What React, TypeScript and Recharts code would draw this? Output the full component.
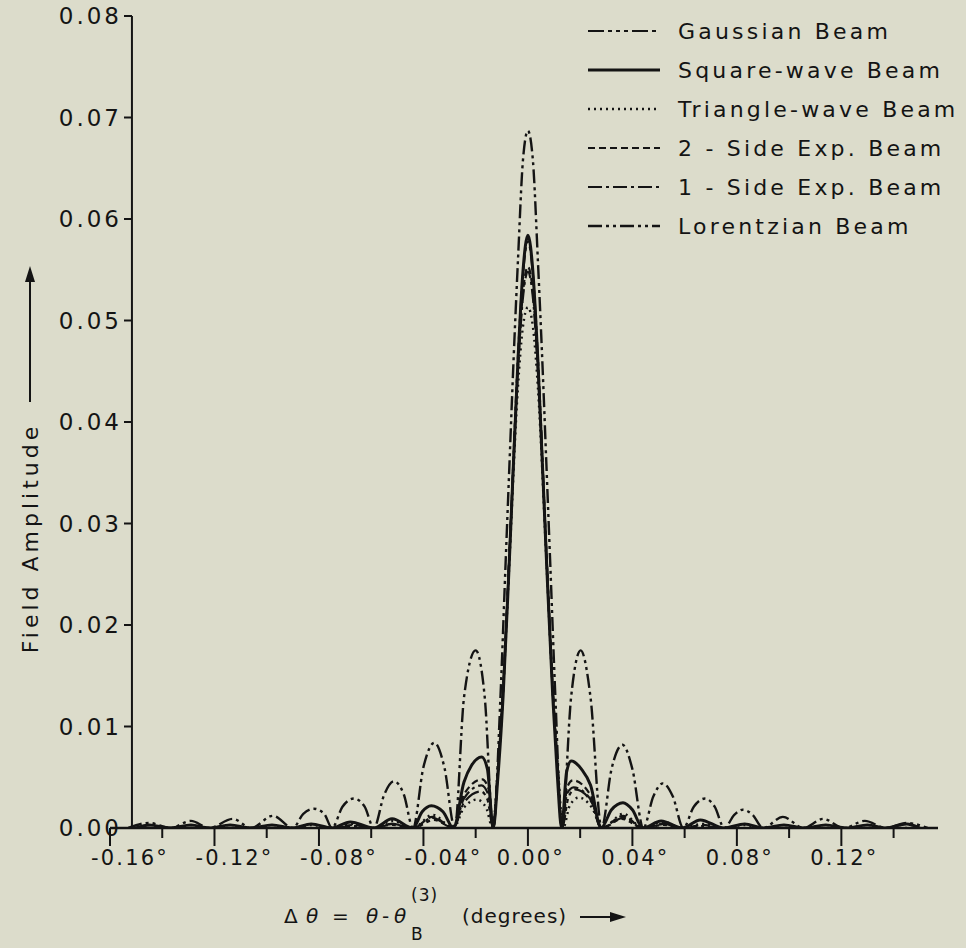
import React from 'react'
import { LineChart, Line, XAxis, YAxis, ReferenceLine, Legend } from 'recharts'

// tick positions
const xTicks = [-0.16, -0.14, -0.12, -0.1, -0.08, -0.06, -0.04, -0.02, 0, 0.02, 0.04, 0.06, 0.08, 0.1, 0.12, 0.14]
const yTicks = [0, 0.01, 0.02, 0.03, 0.04, 0.05, 0.06, 0.07, 0.08]
const yAxisAt = -0.1516

// [angle (deg), field amplitude]
const gaussian: [number, number][] = [
  [-0.15, 0], [-0.06, 0], [-0.052, 0.0003], [-0.044, 0], [-0.036, 0.0008], [-0.0285, 0],
  [-0.0245, 0.0025], [-0.018, 0.0036], [-0.0155, 0.0028], [-0.0133, 0],
  [-0.0115, 0.0055], [-0.0095, 0.0135], [-0.0071, 0.0268], [-0.0038, 0.0465], [-0.002, 0.0542],
  [0, 0.0578],
  [0.002, 0.0542], [0.0038, 0.0465], [0.0071, 0.0268], [0.0095, 0.0135], [0.0115, 0.0055],
  [0.0131, 0], [0.0155, 0.003], [0.018, 0.0038], [0.0245, 0.0025], [0.0285, 0],
  [0.036, 0.0009], [0.044, 0], [0.052, 0.0003], [0.06, 0], [0.15, 0],
]

const squareWave: [number, number][] = [
  [-0.15, 0], [-0.145, 0.0003], [-0.137, 0], [-0.129, 0.0003], [-0.122, 0], [-0.114, 0.0003],
  [-0.106, 0], [-0.098, 0.0003], [-0.09, 0], [-0.083, 0.0004], [-0.075, 0], [-0.068, 0.0006],
  [-0.059, 0], [-0.052, 0.0009], [-0.044, 0], [-0.0405, 0.0016], [-0.037, 0.0022], [-0.0325, 0.0016],
  [-0.0285, 0], [-0.0245, 0.0045], [-0.0215, 0.0062], [-0.0177, 0.007], [-0.0155, 0.0058], [-0.0133, 0],
  [-0.0115, 0.005], [-0.0095, 0.013], [-0.0071, 0.0264], [-0.0038, 0.0461], [-0.002, 0.0545],
  [0, 0.0584],
  [0.002, 0.0545], [0.0038, 0.0461], [0.0071, 0.0264], [0.0095, 0.013], [0.0113, 0.005], [0.0129, 0],
  [0.0148, 0.0055], [0.0166, 0.0066], [0.0205, 0.0058], [0.024, 0.0042], [0.028, 0],
  [0.032, 0.0018], [0.0364, 0.0025], [0.04, 0.0018], [0.044, 0], [0.051, 0.0007], [0.059, 0],
  [0.066, 0.0008], [0.075, 0], [0.083, 0.0004], [0.09, 0], [0.098, 0.0003], [0.106, 0],
  [0.114, 0.0003], [0.122, 0], [0.13, 0.0003], [0.137, 0], [0.145, 0.0004], [0.15, 0],
]

const triangleWave: [number, number][] = [
  [-0.15, 0], [-0.09, 0], [-0.083, 0.0003], [-0.075, 0], [-0.067, 0.0004], [-0.059, 0],
  [-0.052, 0.0007], [-0.044, 0], [-0.0365, 0.0013], [-0.0285, 0], [-0.0245, 0.002],
  [-0.0195, 0.0028], [-0.016, 0.002], [-0.0135, 0],
  [-0.0115, 0.0058], [-0.0095, 0.0135], [-0.0071, 0.0262], [-0.0038, 0.0435], [-0.002, 0.0492],
  [0, 0.0513],
  [0.002, 0.0492], [0.0038, 0.0435], [0.0071, 0.0262], [0.0095, 0.0135], [0.0115, 0.0058],
  [0.0135, 0], [0.016, 0.0022], [0.0195, 0.003], [0.0245, 0.002], [0.0285, 0],
  [0.0365, 0.0014], [0.044, 0], [0.052, 0.0006], [0.059, 0], [0.067, 0.0004], [0.075, 0],
  [0.083, 0.0003], [0.09, 0], [0.15, 0],
]

const twoSideExp: [number, number][] = [
  [-0.15, 0], [-0.075, 0], [-0.067, 0.0003], [-0.059, 0], [-0.052, 0.0004], [-0.044, 0],
  [-0.0365, 0.0011], [-0.0285, 0], [-0.0245, 0.0033], [-0.0175, 0.0048], [-0.015, 0.0038], [-0.0133, 0],
  [-0.0115, 0.0058], [-0.0095, 0.0138], [-0.0071, 0.027], [-0.0038, 0.0455], [-0.002, 0.0525],
  [0, 0.0553],
  [0.002, 0.0525], [0.0038, 0.0455], [0.0071, 0.027], [0.0095, 0.0138], [0.0115, 0.0058],
  [0.013, 0], [0.015, 0.004], [0.0172, 0.0047], [0.024, 0.0032], [0.028, 0],
  [0.0365, 0.0012], [0.044, 0], [0.052, 0.0004], [0.059, 0], [0.067, 0.0003], [0.075, 0], [0.15, 0],
]

const oneSideExp: [number, number][] = [
  [-0.15, 0], [-0.075, 0], [-0.067, 0.0002], [-0.059, 0], [-0.052, 0.0004], [-0.044, 0],
  [-0.0365, 0.001], [-0.0285, 0], [-0.0245, 0.0029], [-0.0178, 0.0042], [-0.0152, 0.0033], [-0.0133, 0],
  [-0.0115, 0.0056], [-0.0095, 0.0136], [-0.0071, 0.0268], [-0.0038, 0.0452], [-0.002, 0.052],
  [0, 0.0548],
  [0.002, 0.052], [0.0038, 0.0452], [0.0071, 0.0268], [0.0095, 0.0136], [0.0115, 0.0056],
  [0.013, 0], [0.015, 0.0034], [0.0175, 0.004], [0.024, 0.0028], [0.028, 0],
  [0.0365, 0.001], [0.044, 0], [0.052, 0.0004], [0.059, 0], [0.067, 0.0002], [0.075, 0], [0.15, 0],
]

const lorentzian: [number, number][] = [
  [-0.153, 0], [-0.145, 0.0005], [-0.137, 0], [-0.129, 0.0007], [-0.122, 0], [-0.113, 0.0009],
  [-0.106, 0], [-0.0976, 0.0012], [-0.09, 0], [-0.086, 0.0014], [-0.082, 0.0019], [-0.078, 0.0014],
  [-0.075, 0], [-0.071, 0.0021], [-0.0666, 0.0029], [-0.0625, 0.0021], [-0.059, 0],
  [-0.055, 0.0033], [-0.0513, 0.0046], [-0.0475, 0.0033], [-0.044, 0],
  [-0.04, 0.006], [-0.0358, 0.0084], [-0.032, 0.006], [-0.028, 0],
  [-0.0245, 0.0128], [-0.02, 0.0175], [-0.0165, 0.0128], [-0.0133, 0],
  [-0.0105, 0.013], [-0.0085, 0.0264], [-0.007, 0.0363], [-0.0055, 0.0461], [-0.0038, 0.056],
  [-0.0019, 0.0658], [0, 0.0687], [0.0019, 0.0658], [0.0038, 0.056], [0.0055, 0.0461],
  [0.007, 0.0363], [0.0085, 0.0264], [0.0105, 0.013], [0.013, 0],
  [0.0165, 0.0128], [0.0202, 0.0175], [0.024, 0.0128], [0.0282, 0],
  [0.032, 0.0058], [0.0362, 0.0082], [0.04, 0.0058], [0.0442, 0],
  [0.048, 0.0031], [0.0517, 0.0044], [0.0555, 0.0031], [0.0595, 0],
  [0.0635, 0.0021], [0.0678, 0.0029], [0.0715, 0.0021], [0.0752, 0],
  [0.079, 0.0013], [0.0823, 0.0018], [0.086, 0.0013], [0.09, 0],
  [0.0976, 0.0011], [0.1055, 0], [0.113, 0.0009], [0.121, 0], [0.129, 0.0007], [0.137, 0],
  [0.145, 0.0005], [0.153, 0],
]

const series = [
  { name: 'Gaussian Beam', points: gaussian, dash: '16 4 4 4 4 4 4 4', width: 2.2 },
  { name: 'Square-wave Beam', points: squareWave, dash: undefined, width: 3 },
  { name: 'Triangle-wave Beam', points: triangleWave, dash: '2 4', width: 2.4 },
  { name: '2 - Side Exp. Beam', points: twoSideExp, dash: '7 4', width: 2.2 },
  { name: '1 - Side Exp. Beam', points: oneSideExp, dash: '14 4 3 4', width: 2.2 },
  { name: 'Lorentzian Beam', points: lorentzian, dash: '14 4 3 4 3 4', width: 2.4 },
]
const drawOrder = [5, 0, 2, 3, 4, 1]

const ink = '#141414'
const font = "'DejaVu Sans', sans-serif"

const XTick = ({ x, y, payload }: any) => {
  const v = payload.value
  const major = Math.round(v * 100) % 4 === 0
  return (
    <g>
      <line x1={x} x2={x} y1={y} y2={y + (major ? 18 : 10)} stroke={ink} strokeWidth={2} />
      {major && (
        <text x={x + (v < 0 ? 20 : 3)} y={y + 30} textAnchor="middle" dominantBaseline="central"
          fill={ink} fontSize={21} letterSpacing={2.2} fontFamily={font}>
          {`${v.toFixed(2)}°`}
        </text>
      )}
    </g>
  )
}

const YTick = ({ x, y, payload }: any) => (
  <g>
    <line x1={x + 14} x2={x + 22} y1={y} y2={y} stroke={ink} strokeWidth={2} />
    <text x={x + 12} y={y} textAnchor="end" dominantBaseline="central"
      fill={ink} fontSize={23} letterSpacing={3} fontFamily={font}>
      {payload.value.toFixed(2)}
    </text>
  </g>
)

const renderLegend = () => (
  <svg width={386} height={240}>
    {series.map((s, i) => (
      <g key={s.name} transform={`translate(0, ${19 + i * 39})`}>
        <line x1={8} x2={80} y1={0} y2={0} stroke={ink} strokeWidth={s.width} strokeDasharray={s.dash} />
        <text x={98} y={0} dominantBaseline="central" fill={ink} fontSize={22} letterSpacing={3.2} fontFamily={font}>
          {s.name}
        </text>
      </g>
    ))}
  </svg>
)

export default function App() {
  return (
    <div style={{ position: 'absolute', left: 0, top: 0, width: 966, height: 948, background: '#dcdccb', fontFamily: font }}>
      <LineChart width={966} height={948} margin={{ top: 16, right: 28, bottom: 60, left: 10 }}>
        <XAxis dataKey="x" type="number" domain={[-0.16, 0.157]} allowDataOverflow ticks={xTicks}
          interval={0} height={60} tickSize={0} tickMargin={0} tickLine={false}
          axisLine={{ stroke: ink, strokeWidth: 2.5 }} tick={<XTick />} />
        <YAxis type="number" domain={[0, 0.08]} allowDataOverflow ticks={yTicks} interval={0}
          width={100} tickSize={0} tickMargin={0} tickLine={false} axisLine={false} tick={<YTick />} />
        <ReferenceLine x={yAxisAt} stroke={ink} strokeWidth={2} />
        <Legend layout="vertical" align="center" verticalAlign="middle" content={renderLegend}
          wrapperStyle={{ left: 580, top: 12, width: 386 }} />
        {drawOrder.map((i) => {
          const s = series[i]
          return (
            <Line key={s.name} data={s.points.map(([x, y]) => ({ x, y }))} dataKey="y" name={s.name}
              type="monotone" stroke={ink} strokeWidth={s.width} strokeDasharray={s.dash}
              dot={false} activeDot={false} isAnimationActive={false} />
          )
        })}
      </LineChart>
      <svg width={966} height={948} style={{ position: 'absolute', left: 0, top: 0, pointerEvents: 'none' }}>
        <text x={30} y={538} transform="rotate(-90 30 538)" textAnchor="middle" dominantBaseline="central"
          fill={ink} fontSize={22} letterSpacing={4} fontFamily={font}>
          Field Amplitude
        </text>
        <line x1={30} x2={30} y1={402} y2={280} stroke={ink} strokeWidth={2} />
        <polygon points="30,266 25,282 35,282" fill={ink} />
        <text y={923} fill={ink} fontSize={20} letterSpacing={1} fontFamily={font}>
          <tspan x={284}>Δ</tspan>
          <tspan x={306} fontStyle="italic">θ</tspan>
          <tspan x={332}>=</tspan>
          <tspan x={366} fontStyle="italic">θ</tspan>
          <tspan x={382}>-</tspan>
          <tspan x={394} fontStyle="italic">θ</tspan>
          <tspan x={411} y={940} fontSize={17}>B</tspan>
          <tspan x={411} y={901} fontSize={17}>(3)</tspan>
          <tspan x={462} y={923}>(degrees)</tspan>
        </text>
        <line x1={580} x2={614} y1={917} y2={917} stroke={ink} strokeWidth={2} />
        <polygon points="626,917 610,912 610,922" fill={ink} />
      </svg>
    </div>
  )
}
